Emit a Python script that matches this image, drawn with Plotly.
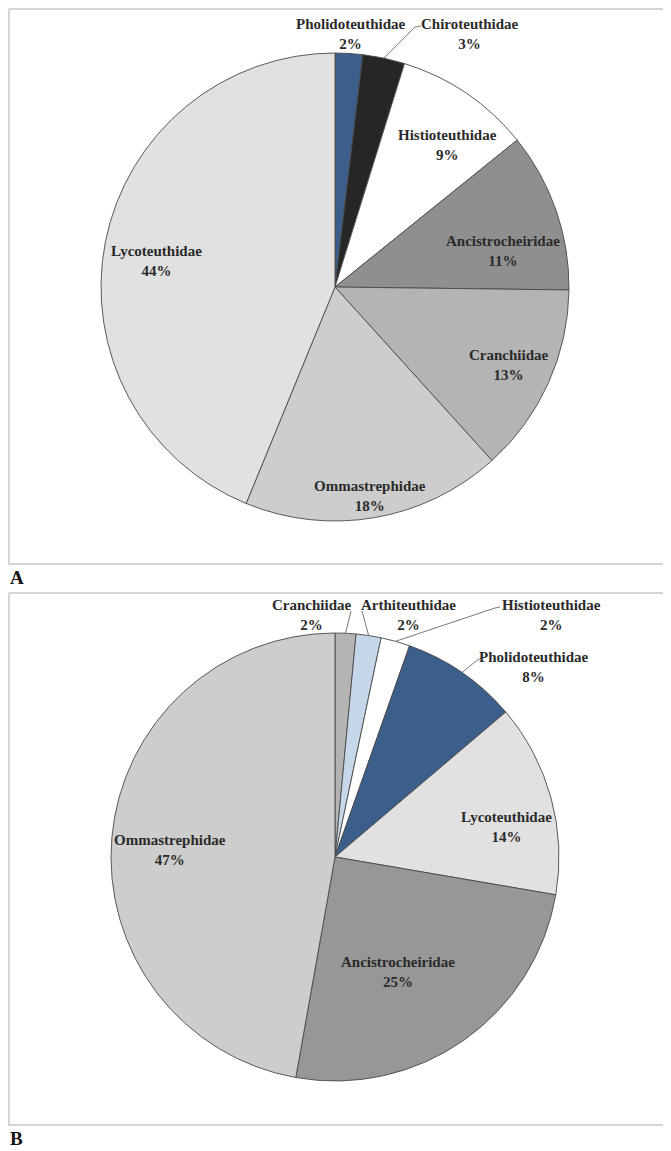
import math
import plotly.graph_objects as go

PAGE_W, PAGE_H = 671, 1151
OFF = 8  # default page margin around the plot div
W, H = PAGE_W - OFF, PAGE_H - OFF

# Panel A
a_families = ["Pholidoteuthidae", "Chiroteuthidae", "Histioteuthidae", "Ancistrocheiridae",
              "Cranchiidae", "Ommastrephidae", "Lycoteuthidae"]
a_share = [1.9, 2.9, 9.4, 11.0, 13.1, 17.9, 43.8]
a_colors = ["#3b5f8a", "#262626", "#ffffff", "#8f8f8f", "#b4b4b4", "#cdcdcd", "#e1e1e1"]

# Panel B
b_families = ["Cranchiidae", "Arthiteuthidae", "Histioteuthidae", "Pholidoteuthidae",
              "Lycoteuthidae", "Ancistrocheiridae", "Ommastrephidae"]
b_share = [1.5, 1.8, 2.1, 8.4, 13.9, 25.1, 47.2]
b_colors = ["#b4b4b4", "#c6d7ea", "#ffffff", "#3b5f8a", "#e1e1e1", "#979797", "#cdcdcd"]

# page-pixel layout: pie centre / radius, label centres, leader line ends (None = no leader)
a_geom = dict(cx=335, cy=287, r=234)
a_label_xy = [(351, 34), (470, 34), (447, 145), (503, 251), (509, 365), (370, 496), (156, 261)]
a_leader = [None, [(415, 27), (421, 26)], None, None, None, None, None]

b_geom = dict(cx=335, cy=857, r=224)
b_label_xy = [(312, 615), (408, 615), (551, 615), (534, 667), (506, 827), (398, 972), (170, 850)]
b_leader = [[(351, 611)], [(362, 611)], [(495, 608), (500, 607)], [(476, 661), (481, 658)],
            None, None, None]


def px(x):
    return (x - OFF) / W


def py(y):
    return 1 - (y - OFF) / H


fig = go.Figure()
shapes = []
annotations = []
label_font = dict(family="Liberation Serif", size=15, color="#2a2a2a")


def add_panel(families, share, colors, geom, label_xy, leaders):
    cx, cy, r = geom["cx"], geom["cy"], geom["r"]
    fig.add_trace(go.Pie(
        labels=families,
        values=share,
        sort=False,
        direction="clockwise",
        rotation=0,
        marker=dict(colors=colors, line=dict(color="#4a4a4a", width=0.9)),
        textinfo="none",
        hoverinfo="label+percent",
        showlegend=False,
        domain=dict(x=[px(cx - r), px(cx + r)], y=[py(cy + r), py(cy - r)]),
    ))
    total = sum(share)
    cum = 0
    for name, v, (lx, ly), lead in zip(families, share, label_xy, leaders):
        mid = (cum + v / 2) / total * 2 * math.pi
        cum += v
        annotations.append(dict(
            x=px(lx), y=py(ly), xref="paper", yref="paper",
            xanchor="center", yanchor="middle",
            text=f"<b>{name}<br>{v:.0f}%</b>", showarrow=False,
            font=label_font, align="center",
        ))
        if lead:
            pts = [(cx + r * math.sin(mid), cy - r * math.cos(mid))] + lead
            for (x0, y0), (x1, y1) in zip(pts[:-1], pts[1:]):
                shapes.append(dict(type="line", xref="paper", yref="paper",
                                   x0=px(x0), y0=py(y0), x1=px(x1), y1=py(y1),
                                   line=dict(color="#555555", width=0.8)))


add_panel(a_families, a_share, a_colors, a_geom, a_label_xy, a_leader)
add_panel(b_families, b_share, b_colors, b_geom, b_label_xy, b_leader)

# panel frames
for top, bottom in [(9, 564), (593, 1125)]:
    shapes.append(dict(type="rect", xref="paper", yref="paper",
                       x0=px(9), x1=px(665), y0=py(bottom), y1=py(top),
                       line=dict(color="#c8c8c8", width=1.5), layer="below"))

for letter, y in [("A", 577), ("B", 1138)]:
    annotations.append(dict(
        x=px(8), y=py(y), xref="paper", yref="paper",
        xanchor="left", yanchor="middle",
        text=f"<b>{letter}</b>", showarrow=False,
        font=dict(family="Liberation Serif", size=19, color="#111111"),
    ))

fig.update_layout(
    width=W, height=H,
    margin=dict(l=0, r=0, t=0, b=0),
    paper_bgcolor="white",
    plot_bgcolor="white",
    shapes=shapes,
    annotations=annotations,
)

fig.write_html("out.html")
